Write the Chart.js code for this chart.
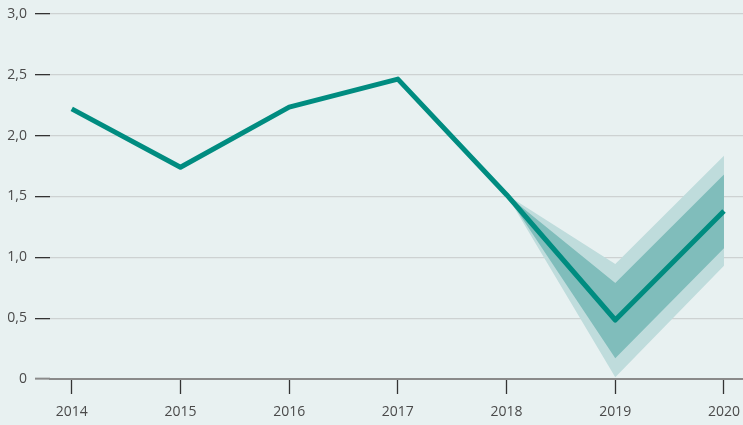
<!DOCTYPE html>
<html>
<head>
<meta charset="utf-8">
<script src="https://cdn.jsdelivr.net/npm/chart.js@4/dist/chart.umd.min.js"></script>
<style>
  html, body { margin: 0; padding: 0; background: #e8f1f1; }
  canvas { display: block; }
</style>
</head>
<body>
<canvas id="chart" width="743" height="425"></canvas>
<script>
// years and values
const years = [2014, 2015, 2016, 2017, 2018, 2019, 2020];
const values = [2.22, 1.74, 2.235, 2.465, 1.515, 0.485, 1.38];

// forecast fan, from 2018 onwards
const fanYears = [2018, 2019, 2020];
const outerHigh = [1.515, 0.945, 1.835];
const outerLow = [1.515, 0.015, 0.93];
const innerHigh = [1.515, 0.79, 1.68];
const innerLow = [1.515, 0.17, 1.075];

const yTicks = [0, 0.5, 1, 1.5, 2, 2.5, 3];

const pts = (xs, ys) => xs.map((x, i) => ({ x: x, y: ys[i] }));

const lineColor = "#008c80";
const innerColor = "#80bdbb";
const outerColor = "#bfdcdc";

const band = (data, color, fillTarget, order) => ({
  data: pts(fanYears, data),
  borderWidth: 0,
  pointRadius: 0,
  backgroundColor: color,
  fill: fillTarget === null ? false : { target: fillTarget },
  order: order,
});

new Chart(document.getElementById("chart"), {
  type: "line",
  data: {
    datasets: [
      // 0: main series
      {
        data: pts(years, values),
        borderColor: lineColor,
        borderWidth: 5,
        pointRadius: 0,
        borderJoinStyle: "round",
        fill: false,
        order: 0,
      },
      // 1,2: inner band
      band(innerHigh, innerColor, 2, 1),
      band(innerLow, innerColor, null, 1),
      // 3,4: outer band
      band(outerHigh, outerColor, 4, 2),
      band(outerLow, outerColor, null, 2),
    ],
  },
  options: {
    responsive: false,
    devicePixelRatio: 1,
    animation: false,
    layout: { padding: { top: 14, right: 0, bottom: 0, left: 0 } },
    plugins: { legend: { display: false }, tooltip: { enabled: false } },
    scales: {
      x: {
        type: "linear",
        min: 2013.8,
        max: 2020.175,
        afterFit: (s) => {
          s.height = 46;
          s.paddingLeft = 0;
          s.paddingRight = 0;
        },
        ticks: {
          stepSize: 1,
          includeBounds: false,
          padding: 10,
          color: "#4a4a4a",
          font: { family: "Open Sans", size: 14 },
          callback: (v) => String(v),
        },
        grid: {
          drawOnChartArea: false,
          drawTicks: true,
          tickLength: 15,
          tickColor: "#333",
          tickWidth: 1.3,
        },
        border: { display: true, color: "#8a8a8a", width: 2 },
      },
      y: {
        min: 0,
        max: 3,
        afterFit: (s) => {
          s.width = 50;
          s.paddingTop = 0;
          s.paddingBottom = 0;
        },
        afterBuildTicks: (s) => {
          s.ticks = yTicks.map((v) => ({ value: v }));
        },
        ticks: {
          padding: 8,
          color: "#4a4a4a",
          font: { family: "Open Sans", size: 14 },
          callback: (v) => (v === 0 ? "0" : v.toFixed(1).replace(".", ",")),
        },
        grid: {
          color: (c) => (c.tick && c.tick.value === 0 ? "rgba(0,0,0,0)" : "#cdd2d2"),
          lineWidth: 1.3,
          tickLength: 15,
          tickColor: (c) => (c.tick && c.tick.value === 0 ? "#8a8a8a" : "#333"),
          tickWidth: (c) => (c.tick && c.tick.value === 0 ? 2 : 1.3),
        },
        border: { display: false },
      },
    },
  },
});
</script>
</body>
</html>
